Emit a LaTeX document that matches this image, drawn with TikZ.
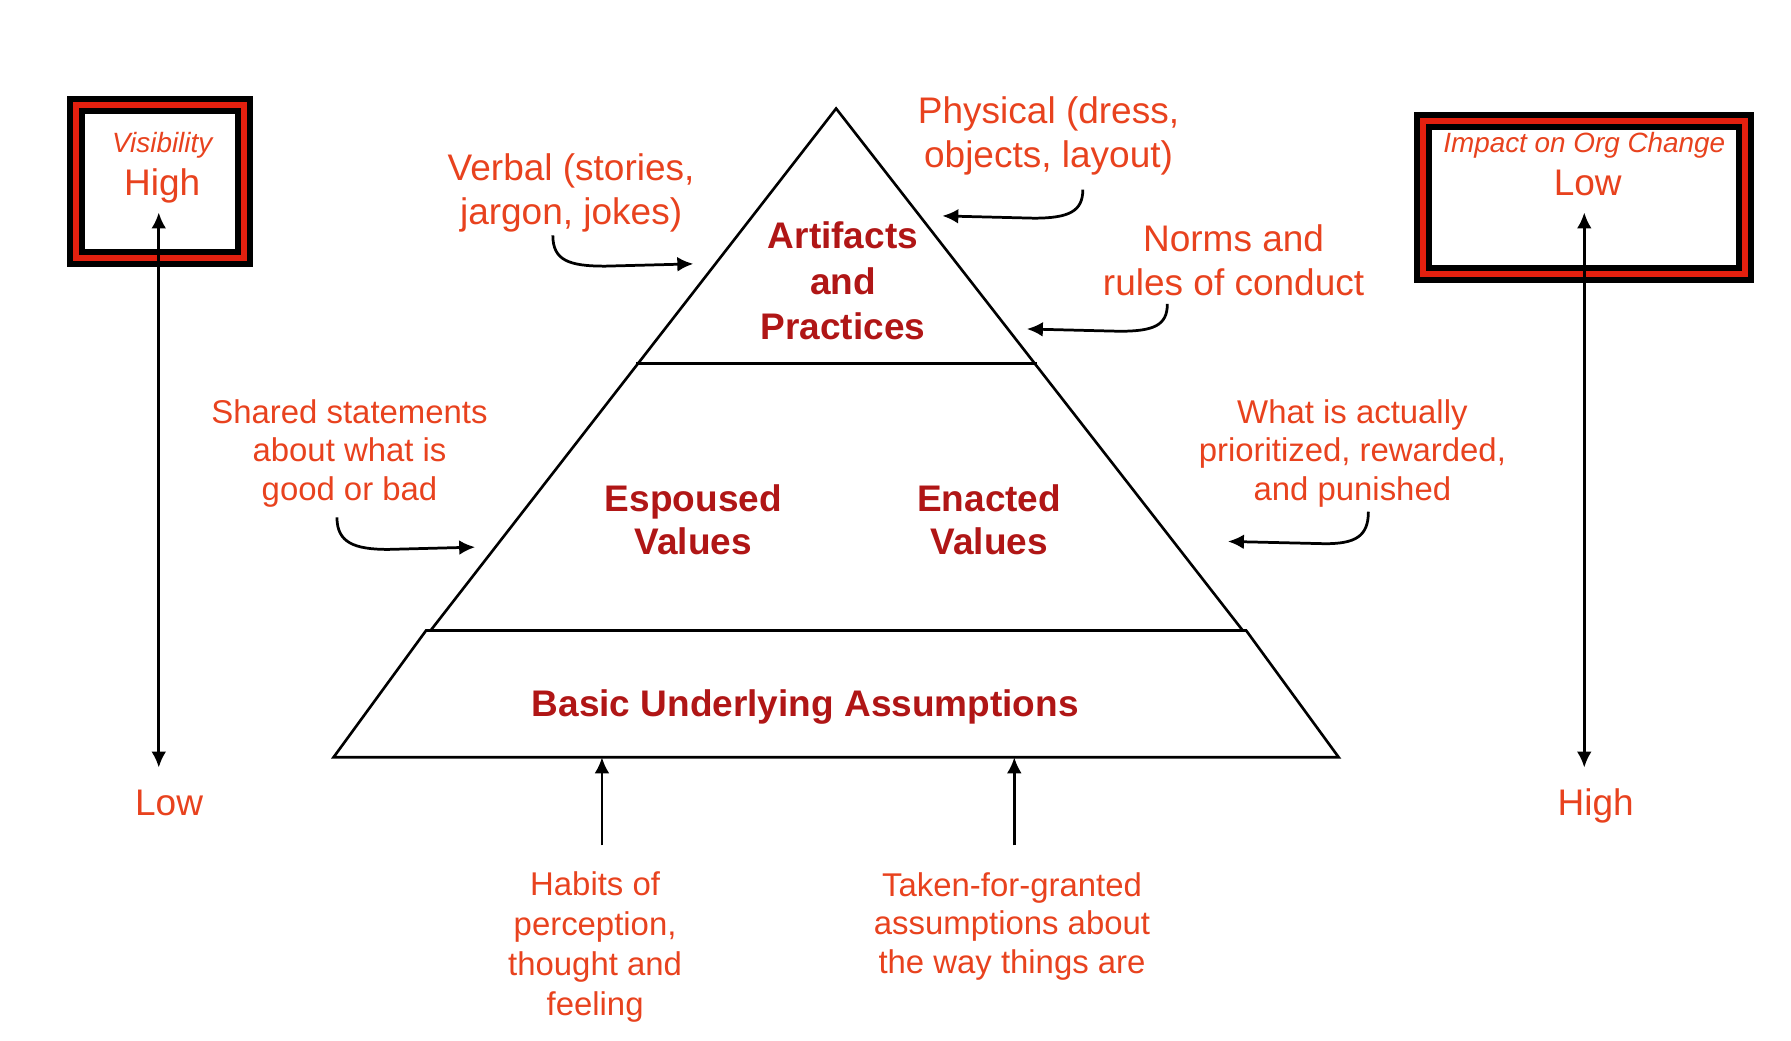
\documentclass[tikz,border=0pt]{standalone}
\usepackage{fontspec}
\setmainfont{Liberation Sans}
\usetikzlibrary{arrows.meta}
\definecolor{txtorange}{HTML}{E8421E}
\definecolor{txtred}{HTML}{B01616}
\definecolor{boxred}{HTML}{E3200F}
\begin{document}
\begin{tikzpicture}[x=0.5pt,y=-0.5pt,
  lbl/.style={text=txtorange, align=center, inner sep=0pt, font=\fontsize{16.2}{19}\selectfont},
  lblsm/.style={lbl, font=\fontsize{14.4}{17}\selectfont},
  lblit/.style={lbl, font=\itshape\fontsize{12.2}{14}\selectfont},
  layer/.style={text=txtred, align=center, inner sep=0pt, font=\bfseries\fontsize{16.2}{20}\selectfont},
  edge/.style={line width=1.15pt},
  arr/.style={line width=1.2pt, -{Latex[length=7pt,width=6.5pt]}},
  arrboth/.style={line width=1.2pt, {Latex[length=7pt,width=6.5pt]}-{Latex[length=7pt,width=6.5pt]}},
  bibox/.style={draw=black, double=boxred, line width=2.6pt, double distance=2.6pt, fill=white, inner sep=0pt}
]
\useasboundingbox (0,0) rectangle (1568,911);

% pyramid
\coordinate (apex) at (732,95);
\coordinate (tl) at (377,552);
\coordinate (tr) at (1088,552);
\coordinate (cl) at (557,318);
\coordinate (cr) at (908,318);
\coordinate (zl) at (373,552);
\coordinate (zr) at (1091,552);
\coordinate (bl) at (292,663);
\coordinate (br) at (1172,663);
\draw[edge] (tl) -- (apex) -- (tr);
\draw[edge] (cl) -- (cr);
\draw[edge] (zl) -- (zr) -- (br) -- (bl) -- cycle;

% layer labels
\node[layer] (artifacts) at (738,246) {Artifacts\\and\\Practices};
\node[layer, font=\bfseries\fontsize{16.2}{19}\selectfont] (espoused) at (607,455) {Espoused\\Values};
\node[layer, font=\bfseries\fontsize{16.2}{19}\selectfont] (enacted) at (866,455) {Enacted\\Values};
\node[layer] (basic) at (705,619) {Basic Underlying Assumptions};

% boxes
\node[bibox, minimum width=73.6pt, minimum height=67pt] (visbox) at (140.1,158.8) {};
\node[bibox, minimum width=141pt, minimum height=67pt] (impbox) at (1386.8,172.7) {};
\node[lblit] (vislbl) at (142,127) {Visibility};
\node[lbl] (vishigh) at (142,163) {High};
\node[lblit] (implbl) at (1387,127) {Impact on Org Change};
\node[lbl] (implow) at (1390,160) {Low};
\node[lbl] (vislow) at (148,703) {Low};
\node[lbl] (imphigh) at (1397,706) {High};

% vertical scale arrows
\coordinate (vtop) at (139,186);
\coordinate (vbot) at (139,672);
\coordinate (itop) at (1387,186);
\coordinate (ibot) at (1387,672);
\draw[arrboth] (vtop) -- (vbot);
\draw[arrboth] (itop) -- (ibot);

% annotation labels
\node[lbl] (verbal) at (500,169) {Verbal (stories,\\jargon, jokes)};
\node[lbl] (physical) at (918,119) {Physical (dress,\\objects, layout)};
\node[lbl] (norms) at (1080,228) {Norms and\\rules of conduct};
\node[lblsm] (shared) at (306,397) {Shared statements\\about what is\\good or bad};
\node[lblsm] (actual) at (1184,397) {What is actually\\prioritized, rewarded,\\and punished};
\node[lblsm, font=\fontsize{14.4}{17.5}\selectfont] (habits) at (521,829) {Habits of\\perception,\\thought and\\feeling};
\node[lblsm] (taken) at (886,811) {Taken-for-granted\\assumptions about\\the way things are};

% curved arrows
\coordinate (verbalS) at (484,206);
\coordinate (verbalT) at (607,231);
\draw[arr] (verbalS) .. controls (484,228) and (498,233) .. (530,233) -- (verbalT);
\coordinate (physS) at (948,166);
\coordinate (physT) at (825,189);
\draw[arr] (physS) .. controls (948,185) and (936,191) .. (905,191) -- (physT);
\coordinate (normsS) at (1022,266);
\coordinate (normsT) at (899,288);
\draw[arr] (normsS) .. controls (1022,285) and (1010,290) .. (980,290) -- (normsT);
\coordinate (sharedS) at (295,453);
\coordinate (sharedT) at (416,479);
\draw[arr] (sharedS) .. controls (295,475) and (310,481) .. (340,481) -- (sharedT);
\coordinate (actualS) at (1198,448);
\coordinate (actualT) at (1075,474);
\draw[arr] (actualS) .. controls (1198,470) and (1186,476) .. (1160,476) -- (actualT);

% bottom arrows
\coordinate (habitsS) at (527,740);
\coordinate (takenS) at (888,740);
\draw[arr] (habitsS) -- (habitsS |- bl);
\draw[arr] (takenS) -- (takenS |- bl);
\end{tikzpicture}
\end{document}
